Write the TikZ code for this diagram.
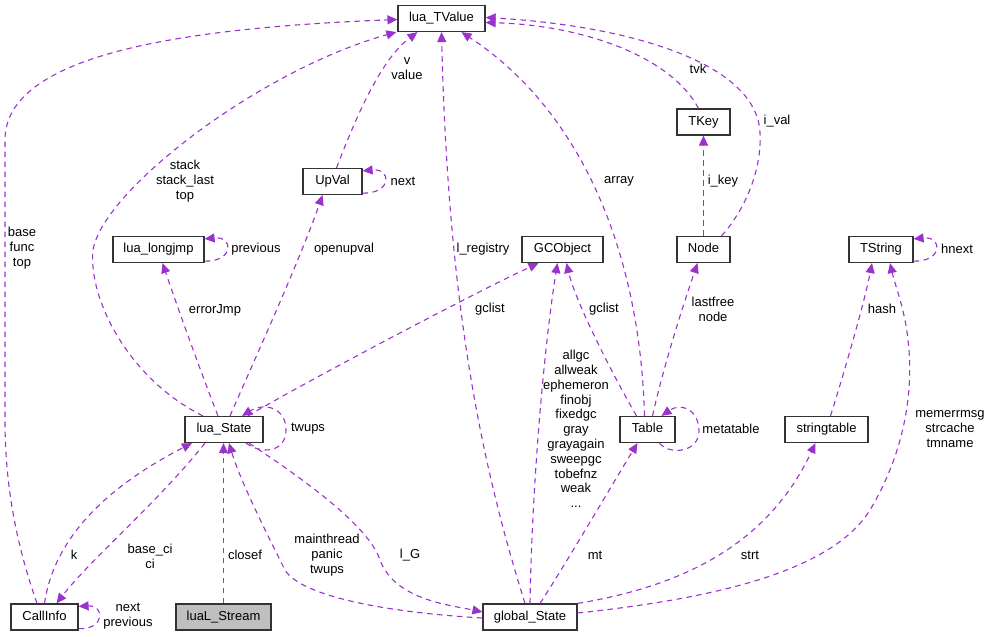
\documentclass[tikz,border=0pt]{standalone}
\usepackage{fontspec}
\setmainfont{Liberation Sans}
\usetikzlibrary{arrows.meta}
\definecolor{edgecol}{HTML}{9A32CD}
\definecolor{boxgrey}{HTML}{BFBFBF}
\definecolor{boxline}{HTML}{333333}
\begin{document}
\begin{tikzpicture}[x=1pt,y=-1pt,
  box/.style={draw=boxline, line width=1.2pt, minimum height=26pt, inner sep=0pt,
    text height=9.5pt, text depth=3pt, font=\fontsize{13}{15}\selectfont},
  lab/.style={inner sep=0pt, align=center, font=\fontsize{13}{14.8}\selectfont},
  edge/.style={draw=edgecol, line width=1.1pt, dash pattern=on 5.5pt off 4.5pt,
    -{Triangle[length=10pt,width=9pt,fill=edgecol]}}]
\useasboundingbox (0,0) rectangle (989,637);

% nodes
\node[box, minimum width=87pt] (tv)    at (441.5,18.5) {lua\_TValue};
\node[box, minimum width=59pt] (upval) at (332.5,181.5) {UpVal};
\node[box, minimum width=91pt] (ljmp)  at (158.5,249.5) {lua\_longjmp};
\node[box, minimum width=53pt] (tkey)  at (703.5,122) {TKey};
\node[box, minimum width=81pt] (gco)   at (562.5,249.5) {GCObject};
\node[box, minimum width=53pt] (nodeN) at (703.5,249.5) {Node};
\node[box, minimum width=64pt] (tstr)  at (881,249.5) {TString};
\node[box, minimum width=78pt] (ls)    at (224,429.5) {lua\_State};
\node[box, minimum width=55pt] (tab)   at (647.5,429.5) {Table};
\node[box, minimum width=83pt] (st)    at (826.5,429.5) {stringtable};
\node[box, minimum width=67pt] (ci)    at (44.5,617) {CallInfo};
\node[box, minimum width=95pt, fill=boxgrey] (lsr) at (223.5,617) {luaL\_Stream};
\node[box, minimum width=94pt] (gs)    at (530,617) {global\_State};

% edges
\draw[edge] ([xshift=-7.5pt]ci.north) .. controls (22,560) and (5,500) .. (5,420)
  -- (5,140) .. controls (5,55) and (180,28) .. ([yshift=-1pt]tv.west);
\draw[edge] ([xshift=-21pt]ls.north) .. controls (130,380) and (88,300) .. (93,250)
  .. controls (103,190) and (260,70) .. ([xshift=-1pt]tv.south west);
\draw[edge] ([xshift=4pt]upval.north) .. controls (355,120) and (380,60) .. ([xshift=-24pt]tv.south);
\draw[edge] ([yshift=2pt]upval.south east) .. controls (392,194) and (392,168) .. ([yshift=-3pt]upval.north east);
\draw[edge] ([yshift=2pt]ljmp.south east) .. controls (234,262) and (234,236) .. ([yshift=-3pt]ljmp.north east);
\draw[edge] ([xshift=-6pt]ls.north) .. controls (200,370) and (175,300) .. ([xshift=4pt]ljmp.south);
\draw[edge] ([xshift=6pt]ls.north) .. controls (250,370) and (300,260) .. ([xshift=-10pt]upval.south);
\draw[edge] ([xshift=-5pt]gs.north) .. controls (480,460) and (448,300) .. (tv.south);
\draw[edge] ([xshift=24pt]ls.north) .. controls (300,385) and (470,295) .. ([xshift=-24pt]gco.south);
\draw[edge] (gs.north) .. controls (532,480) and (545,340) .. ([xshift=-5pt]gco.south);
\draw[edge] ([xshift=-11pt]tab.north) .. controls (610,370) and (575,300) .. ([xshift=4pt]gco.south);
\draw[edge] ([xshift=-3pt]tab.north) .. controls (640,250) and (580,110) .. ([xshift=20pt]tv.south);
\draw[edge] ([xshift=-5pt]tkey.north) .. controls (670,55) and (580,25) .. ([yshift=-4pt]tv.east);
\draw[edge] ([xshift=18pt]nodeN.north) .. controls (745,210) and (762,170) .. (760,133)
  .. controls (757,60) and (620,25) .. ([yshift=1pt]tv.east);
\draw[edge] (nodeN.north) -- (tkey.south);
\draw[edge] ([xshift=5pt]tab.north) .. controls (665,360) and (685,300) .. ([xshift=-6pt]nodeN.south);
\draw[edge] ([xshift=12pt]tab.south) .. controls (670,456) and (700,452) .. (699,430)
  .. controls (698,408) and (680,403) .. ([xshift=14pt]tab.north);
\draw[edge] ([yshift=2pt]tstr.south east) .. controls (943,262) and (943,236) .. ([yshift=-3pt]tstr.north east);
\draw[edge] ([xshift=4pt]st.north) .. controls (845,370) and (865,300) .. ([xshift=-9pt]tstr.south);
\draw[edge] ([yshift=4pt]gs.east) .. controls (700,600) and (830,575) .. (870,510)
  .. controls (900,460) and (915,400) .. (908,340) .. controls (905,310) and (895,285) .. ([xshift=9pt]tstr.south);
\draw[edge] (gs.north east) .. controls (690,585) and (770,540) .. ([xshift=-11pt]st.south);
\draw[edge] ([xshift=10pt]gs.north) .. controls (565,565) and (615,480) .. ([xshift=-10pt]tab.south);
\draw[edge] ([xshift=25pt]ls.south) .. controls (320,490) and (370,530) .. (380,560)
  .. controls (395,600) and (450,605) .. ([yshift=5pt]gs.west);
\draw[edge] ([yshift=-1pt]gs.west) .. controls (380,612) and (300,595) .. (285,570)
  .. controls (265,530) and (240,480) .. ([xshift=5pt]ls.south);
\draw[edge] ([xshift=22pt]ls.south) .. controls (262,455) and (286,452) .. (286,430)
  .. controls (286,408) and (265,402) .. ([xshift=18pt]ls.north);
\draw[edge] ([xshift=-19pt]ls.south) .. controls (160,500) and (90,560) .. ([xshift=12pt]ci.north);
\draw[edge] (ci.north) .. controls (55,530) and (120,480) .. ([xshift=-32pt]ls.south);
\draw[edge] (lsr.north) -- (lsr.north |- ls.south);
\draw[edge] ([yshift=2pt]ci.south east) .. controls (105,630) and (105,605) .. ([yshift=-3pt]ci.north east);

% labels
\node[lab] (l1)  at (22,248)  {base\\func\\top};
\node[lab] (l2)  at (185,181) {stack\\stack\_last\\top};
\node[lab] (l3)  at (407,69)  {v\\value};
\node[lab] (l4)  at (403,181) {next};
\node[lab] (l5)  at (256,249) {previous};
\node[lab] (l6)  at (215,310) {errorJmp};
\node[lab] (l7)  at (344,249) {openupval};
\node[lab] (l8)  at (483,249) {l\_registry};
\node[lab] (l9)  at (490,309) {gclist};
\node[lab] (l10) at (576,429) {allgc\\allweak\\ephemeron\\finobj\\fixedgc\\gray\\grayagain\\sweepgc\\tobefnz\\weak\\...};
\node[lab] (l11) at (604,309) {gclist};
\node[lab] (l12) at (619,181) {array};
\node[lab] (l13) at (698,69)  {tvk};
\node[lab] (l14) at (777,121) {i\_val};
\node[lab] (l15) at (723,181) {i\_key};
\node[lab] (l16) at (713,309) {lastfree\\node};
\node[lab] (l17) at (731,429) {metatable};
\node[lab] (l18) at (957,249) {hnext};
\node[lab] (l19) at (882,309) {hash};
\node[lab] (l20) at (950,429) {memerrmsg\\strcache\\tmname};
\node[lab] (l21) at (750,555) {strt};
\node[lab] (l22) at (595,555) {mt};
\node[lab] (l23) at (410,555) {l\_G};
\node[lab] (l24) at (327,555) {mainthread\\panic\\twups};
\node[lab] (l25) at (308,429) {twups};
\node[lab] (l26) at (150,556) {base\_ci\\ci};
\node[lab] (l27) at (74,555)  {k};
\node[lab] (l28) at (245,555) {closef};
\node[lab] (l29) at (128,616) {next\\previous};
\end{tikzpicture}
\end{document}
